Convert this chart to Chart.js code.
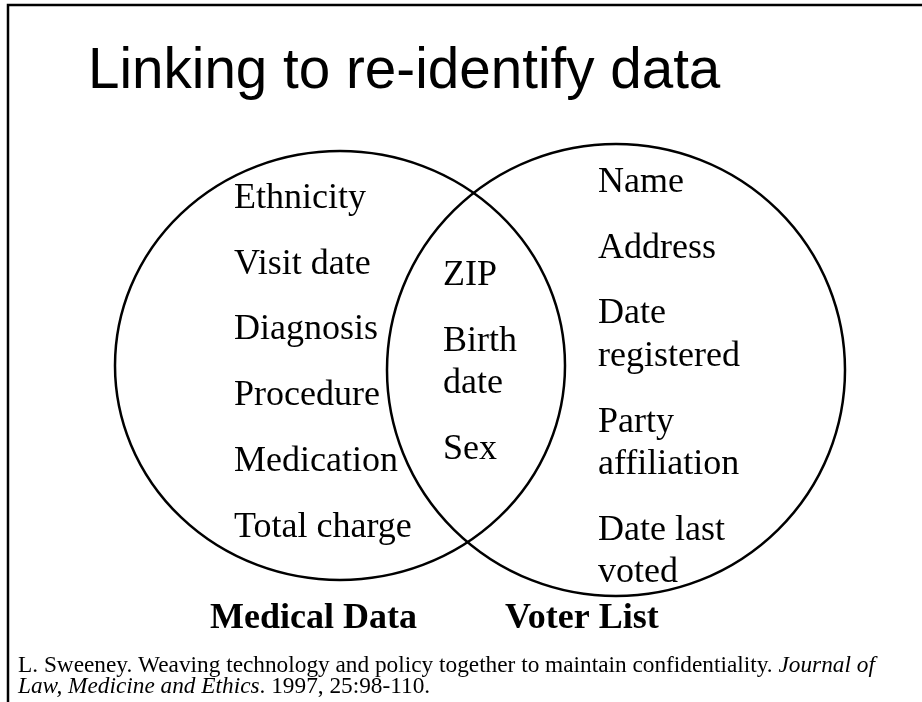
<!DOCTYPE html>
<html>
<head>
<meta charset="utf-8">
<script src="https://cdn.jsdelivr.net/npm/chart.js@4/dist/chart.umd.min.js"></script>
<style>
  html, body { margin: 0; padding: 0; background: #ffffff; }
  #wrap { position: relative; width: 922px; height: 702px; }
</style>
</head>
<body>
<div id="wrap"><canvas id="c"></canvas></div>
<script>
// ---- data ----
const titleText = "Linking to re-identify data";
const setNames = ["Medical Data", "Voter List"];
const medicalOnly = ["Ethnicity", "Visit date", "Diagnosis", "Procedure", "Medication", "Total charge"];
const sharedItems = ["ZIP", "Birth\ndate", "Sex"];
const voterOnly = ["Name", "Address", "Date\nregistered", "Party\naffiliation", "Date last\nvoted"];
const citationLine1 = [["L. Sweeney. Weaving technology and policy together to maintain confidentiality. ", false], ["Journal of", true]];
const citationLine2 = [["Law, Medicine and Ethics", true], [". 1997, 25:98-110.", false]];

// ---- layout (axis units, canvas-sized coordinate space) ----
const ellipses = [
  { cx: 340, cy: 365.5, rx: 225, ry: 214.5 },
  { cx: 616, cy: 370, rx: 229, ry: 226 }
];
const columns = [
  { items: medicalOnly, x: 234, y: 208 },
  { items: sharedItems, x: 443, y: 285 },
  { items: voterOnly, x: 598, y: 192 }
];
const setLabelPos = [{ x: 210, y: 628 }, { x: 505, y: 628 }];
const itemGap = 65.7, lineGap = 42.5;
const serif = '"Liberation Serif", "Times New Roman", serif';
const sans = '"Liberation Sans", Arial, sans-serif';

const vennPlugin = {
  id: 'venn',
  beforeDraw(chart) {
    const ctx = chart.ctx, xs = chart.scales.x, ys = chart.scales.y;
    const X = v => xs.getPixelForValue(v), Y = v => ys.getPixelForValue(v);
    ctx.save();
    ctx.fillStyle = '#fff';
    ctx.fillRect(0, 0, chart.width, chart.height);
    // slide frame
    ctx.strokeStyle = '#000';
    ctx.lineWidth = 2.5;
    ctx.beginPath();
    ctx.moveTo(X(8), Y(702));
    ctx.lineTo(X(8), Y(5));
    ctx.lineTo(X(922), Y(5));
    ctx.stroke();
    ctx.restore();
  },
  afterDatasetsDraw(chart) {
    const ctx = chart.ctx, xs = chart.scales.x, ys = chart.scales.y;
    const X = v => xs.getPixelForValue(v), Y = v => ys.getPixelForValue(v);
    ctx.save();
    // title
    ctx.fillStyle = '#000';
    ctx.textBaseline = 'alphabetic';
    ctx.textAlign = 'left';
    ctx.font = '56.6px ' + sans;
    ctx.fillText(titleText, X(88), Y(88));
    // circles
    ctx.strokeStyle = '#000';
    ctx.lineWidth = 2.5;
    ellipses.forEach(e => {
      ctx.beginPath();
      ctx.ellipse(X(e.cx), Y(e.cy), Math.abs(X(e.cx + e.rx) - X(e.cx)), Math.abs(Y(e.cy + e.ry) - Y(e.cy)), 0, 0, Math.PI * 2);
      ctx.stroke();
    });
    // items
    ctx.font = '36px ' + serif;
    columns.forEach(col => {
      let y = col.y;
      col.items.forEach(item => {
        const lines = item.split('\n');
        lines.forEach((ln, i) => {
          ctx.fillText(ln, X(col.x), Y(y));
          if (i < lines.length - 1) y += lineGap;
        });
        y += itemGap;
      });
    });
    // set labels
    ctx.font = 'bold 36px ' + serif;
    setNames.forEach((n, i) => ctx.fillText(n, X(setLabelPos[i].x), Y(setLabelPos[i].y)));
    // citation
    const drawRuns = (runs, x, y) => {
      runs.forEach(([t, it]) => {
        ctx.font = (it ? 'italic ' : '') + '23.3px ' + serif;
        ctx.fillText(t, x, y);
        x += ctx.measureText(t).width;
      });
    };
    drawRuns(citationLine1, X(18), Y(672));
    drawRuns(citationLine2, X(18), Y(693));
    ctx.restore();
  }
};

new Chart(document.getElementById('c'), {
  type: 'scatter',
  data: {
    datasets: setNames.map((n, i) => ({
      label: n,
      data: [{ x: ellipses[i].cx, y: ellipses[i].cy }],
      pointRadius: 0,
      showLine: false
    }))
  },
  options: {
    responsive: true,
    maintainAspectRatio: false,
    animation: false,
    layout: { padding: 0 },
    plugins: { legend: { display: false }, tooltip: { enabled: false }, title: { display: false } },
    scales: {
      x: { type: 'linear', min: 0, max: 922, display: false },
      y: { type: 'linear', min: 0, max: 702, reverse: true, display: false }
    }
  },
  plugins: [vennPlugin]
});
</script>
</body>
</html>
